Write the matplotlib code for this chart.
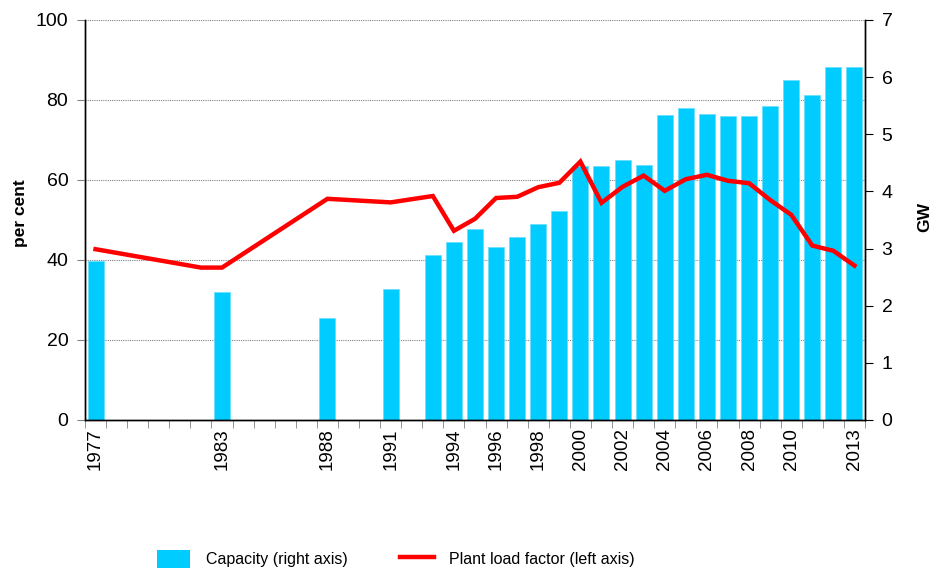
import numpy as np
import matplotlib
matplotlib.use("Agg")
import matplotlib.pyplot as plt
from matplotlib.patches import Patch
from matplotlib.lines import Line2D

plt.rcParams["font.family"] = ["Liberation Sans", "DejaVu Sans"]

# capacity (GW, right axis)
cap_years = [1977, 1983, 1988, 1991] + list(range(1993, 2014))
capacity = [2.79, 2.24, 1.78, 2.29,
            2.89, 3.11, 3.35, 3.03, 3.20, 3.43, 3.66, 4.45, 4.45, 4.55, 4.46,
            5.34, 5.46, 5.36, 5.32, 5.32, 5.49, 5.95, 5.69, 6.18, 6.17]

# plant load factor (per cent, left axis)
plf_years = [1977, 1982, 1983, 1988, 1991] + list(range(1993, 2014))
plf = [42.7, 38.1, 38.1, 55.3, 54.4,
       56.0, 47.3, 50.3, 55.5, 55.8, 58.2, 59.3, 64.6, 54.3, 58.3, 61.1,
       57.3, 60.2, 61.3, 59.8, 59.2, 55.0, 51.3, 43.6, 42.3, 38.6]

first, last = 1977, 2013
label_years = [1977, 1983, 1988, 1991, 1994, 1996, 1998, 2000, 2002,
               2004, 2006, 2008, 2010, 2013]
pct_ticks = [0, 20, 40, 60, 80, 100]
gw_ticks = [0, 1, 2, 3, 4, 5, 6, 7]

fig = plt.figure(figsize=(9.33, 5.71), dpi=100)
ax2 = fig.add_axes([85 / 933, 1 - 420 / 571, 780 / 933, 400 / 571])
ax1 = ax2.twinx()
ax1.yaxis.tick_left()
ax2.yaxis.tick_right()
ax1.set_zorder(ax2.get_zorder() + 1)
ax1.patch.set_visible(False)

# gridlines behind the bars, at the per-cent ticks
for t in pct_ticks[1:]:
    ax2.axhline(t / 100 * gw_ticks[-1], color="#808080", linestyle=(0, (1, 1)),
                linewidth=0.8, zorder=0)

ax2.bar(np.array(cap_years) - first, capacity, width=0.76, color="#00CCFF",
        edgecolor="#66DDFF", linewidth=0.5, zorder=2)
ax1.plot(np.array(plf_years) - first, plf, color="#FF0000", linewidth=3.2,
         solid_joinstyle="miter", zorder=3)

ax1.set_ylim(0, 100)
ax2.set_ylim(0, 7)
ax2.set_xlim(-0.5, last - first + 0.5)
ax1.set_yticks(pct_ticks)
ax2.set_yticks(gw_ticks)
ax1.tick_params(axis="y", labelsize=14, length=6, color="#808080", pad=6)
ax2.tick_params(axis="y", labelsize=14, length=6, color="black", pad=6)

ax2.set_xticks([y - first for y in label_years])
ax2.set_xticklabels([str(y) for y in label_years], rotation=90, fontsize=13.5)
ax2.set_xticks(np.arange(-0.5, last - first + 1), minor=True)
ax2.tick_params(axis="x", which="major", length=0, pad=6)
ax2.tick_params(axis="x", which="minor", length=6, color="#808080")

for a in (ax1, ax2):
    a.spines["top"].set_visible(False)
    for s in ("left", "right", "bottom"):
        a.spines[s].set_linewidth(1.0)
        a.spines[s].set_color("black")

fig.text(20 / 933, 1 - 213 / 571, "per cent", rotation=90, ha="center",
         va="center", fontsize=12.5, fontweight="bold")
fig.text(925 / 933, 1 - 217 / 571, "GW", rotation=90, ha="center",
         va="center", fontsize=12.5, fontweight="bold")

handles = [Patch(facecolor="#00CCFF", edgecolor="none"),
           Line2D([], [], color="#FF0000", linewidth=3.2)]
fig.legend(handles, ["Capacity (right axis)", "Plant load factor (left axis)"],
           loc="center", bbox_to_anchor=(0.424, 0.021), ncol=2, frameon=False,
           fontsize=11.5, handlelength=2.1, handleheight=1.3, handletextpad=0.95,
           columnspacing=3.3, borderpad=0)

fig.savefig("out.png", dpi=100)
